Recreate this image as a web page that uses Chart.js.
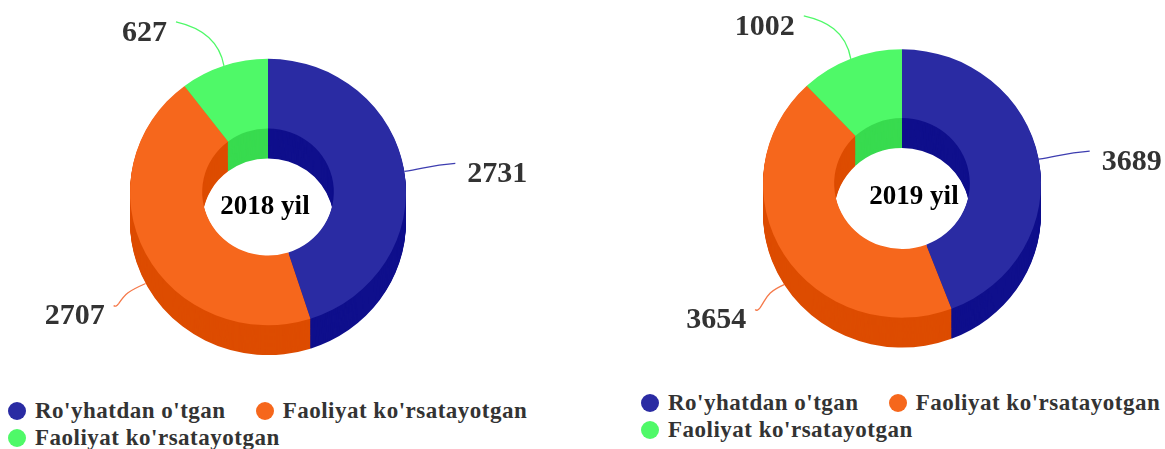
<!DOCTYPE html>
<html>
<head>
<meta charset="utf-8">
<title>Donut charts</title>
<script src="https://cdn.jsdelivr.net/npm/chart.js@4"></script>
<style>
    html, body { margin: 0; padding: 0; background: #fff; width: 1165px; height: 449px; overflow: hidden; }
    canvas { position: absolute; top: 0; }
    #chart-2018 { left: 0; }
    #chart-2019 { left: 639px; }
    .legend {
        position: absolute;
        display: flex;
        flex-wrap: wrap;
        width: 530px;
        column-gap: 30px;
        font: bold 23px/27px "Liberation Serif", serif;
        letter-spacing: 0.5px;
        color: #333;
    }
    .legend-item { display: flex; align-items: center; white-space: nowrap; }
    .legend-dot { width: 18px; height: 18px; border-radius: 50%; margin-right: 9px; }
    #legend-2018 { left: 8px; top: 397px; }
    #legend-2019 { left: 641px; top: 389px; }
</style>
</head>
<body>
<canvas id="chart-2018" width="536" height="384"></canvas>
<canvas id="chart-2019" width="526" height="367"></canvas>
<div class="legend" id="legend-2018"></div>
<div class="legend" id="legend-2019"></div>

<script>
// Chart data
const categories = ["Ro'yhatdan o'tgan", "Faoliyat ko'rsatayotgan", "Faoliyat ko'rsatayotgan"];
const values2018 = [2731, 2707, 627];
const values2019 = [3689, 3654, 1002];

// Colors
const topColors = ['#2a2ba3', '#f6671c', '#4ff968'];
const sideColors = ['#0f0f8c', '#dd4c00', '#38db4f'];
const lineColors = ['#3d3db0', '#f5794a', '#4ff968'];

// Where each leader line ends, relative to the edge of its slice
const leaders2018 = [[51, -8], [-32, 22], [-48, -44]];
const leaders2019 = [[51, -8], [-29, 25], [-47, -43]];

const squash = 0.965;
const depth = 31;

// Draws the side walls under the slices, then the leader lines and labels over them
const pieces3d = {
    id: 'pieces3d',
    beforeDatasetsDraw(chart) {
        const ctx = chart.ctx;
        const arcs = chart.getDatasetMeta(0).data;
        const first = arcs[0];
        ctx.save();
        ctx.translate(0, first.y * (1 - squash));
        ctx.scale(1, squash);
        for (let d = depth; d > 0; d--) {
            arcs.forEach((arc, i) => {
                ctx.fillStyle = sideColors[i];
                ctx.beginPath();
                ctx.arc(arc.x, arc.y + d, arc.outerRadius, arc.startAngle, arc.endAngle);
                ctx.arc(arc.x, arc.y + d, arc.innerRadius, arc.endAngle, arc.startAngle, true);
                ctx.closePath();
                ctx.fill();
            });
        }
    },
    afterDatasetsDraw(chart, args, opts) {
        const ctx = chart.ctx;
        ctx.restore();
        const arcs = chart.getDatasetMeta(0).data;
        arcs.forEach((arc, i) => {
            const mid = (arc.startAngle + arc.endAngle) / 2;
            const x = arc.x + arc.outerRadius * Math.cos(mid);
            let y = arc.y + arc.outerRadius * squash * Math.sin(mid);
            // the lower left slice is labelled from its side wall
            if (Math.sin(mid) > 0) y += depth * squash;
            const ex = x + opts.leaders[i][0];
            const ey = y + opts.leaders[i][1];

            ctx.strokeStyle = lineColors[i];
            ctx.lineWidth = 1.3;
            ctx.beginPath();
            ctx.moveTo(x, y);
            if (i === 0) {
                ctx.bezierCurveTo(x + 20, y - 3, ex - 25, ey + 2, ex, ey);
            } else if (i === 1) {
                ctx.bezierCurveTo(x - 18, y + 8, ex + 12, ey - 12, ex + 5, ey - 2);
                ctx.quadraticCurveTo(ex + 2, ey + 2, ex, ey);
            } else {
                ctx.bezierCurveTo(x - 5, y - 28, ex + 22, ey + 5, ex, ey);
            }
            ctx.stroke();

            ctx.fillStyle = '#333';
            ctx.font = 'bold 30px "Liberation Serif", serif';
            ctx.textBaseline = 'middle';
            ctx.textAlign = opts.leaders[i][0] > 0 ? 'left' : 'right';
            const gap = opts.leaders[i][0] > 0 ? 12 : -9;
            ctx.fillText(chart.data.datasets[0].data[i], ex + gap, ey + 11);
        });

        ctx.fillStyle = '#000';
        ctx.font = 'bold 27px "Liberation Serif", serif';
        ctx.textAlign = 'center';
        ctx.textBaseline = 'middle';
        ctx.fillText(opts.title, arcs[0].x + opts.titleX, arcs[0].y + opts.titleY);
    }
};

function makeDonut(id, values, leaders, radius, cutout, title, titleX, titleY) {
    return new Chart(document.getElementById(id), {
        type: 'doughnut',
        data: {
            labels: categories,
            datasets: [{
                data: values,
                backgroundColor: topColors,
                borderWidth: 0,
                hoverOffset: 0
            }]
        },
        options: {
            responsive: false,
            animation: false,
            radius: radius,
            cutout: cutout,
            layout: { padding: 0 },
            plugins: {
                legend: { display: false },
                tooltip: { enabled: false },
                pieces3d: { leaders: leaders, title: title, titleX: titleX, titleY: titleY }
            }
        },
        plugins: [pieces3d]
    });
}

// Legend under each donut
function makeLegend(id) {
    document.getElementById(id).innerHTML = categories.map((name, i) => `
        <div class="legend-item">
            <span class="legend-dot" style="background:${topColors[i]}"></span>${name}
        </div>
    `).join('');
}

makeDonut('chart-2018', values2018, leaders2018, 138, '47.7%', '2018 yil', -3, 15);
makeDonut('chart-2019', values2019, leaders2019, 139, '48.8%', '2019 yil', 12, 14);
makeLegend('legend-2018');
makeLegend('legend-2019');
</script>
</body>
</html>
